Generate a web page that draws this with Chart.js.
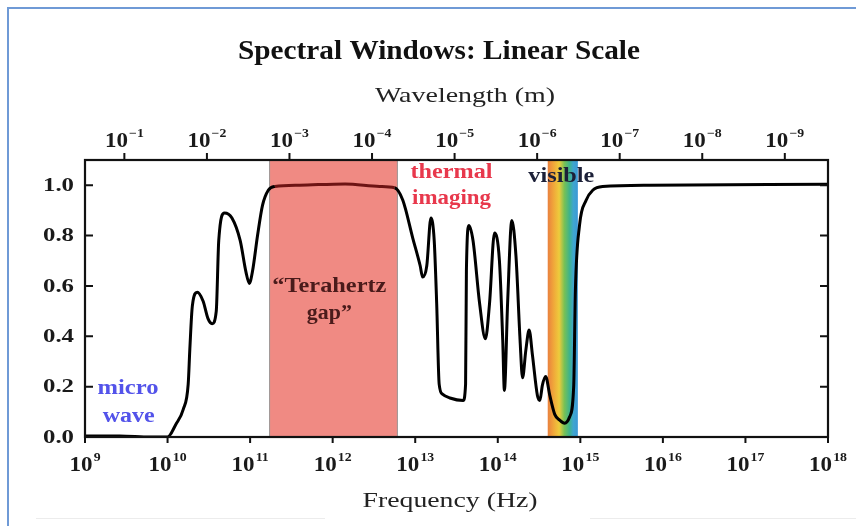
<!DOCTYPE html>
<html lang="en">
<head>
<meta charset="UTF-8"/>
<title>Spectral Windows: Linear Scale</title>
<script src="https://cdn.jsdelivr.net/npm/chart.js@4/dist/chart.umd.min.js"></script>
<style>
  *{margin:0;padding:0;box-sizing:border-box}
  body{background:#fff;width:856px;height:526px;overflow:hidden}
  canvas{display:block}
</style>
</head>
<body>
<canvas id="spec" width="856" height="526"></canvas>
<script>
// frequency axis (log10 Hz) and wavelength axis (log10 m)
const FREQ_EXP = [9, 10, 11, 12, 13, 14, 15, 16, 17, 18];
const WAVE_EXP = [-1, -2, -3, -4, -5, -6, -7, -8, -9];
const Y_TICKS  = [0, 0.2, 0.4, 0.6, 0.8, 1.0];

// transmission curve (x = log10 f)
const logF = [9.0, 9.42, 9.79, 10.0, 10.1, 10.19, 10.25, 10.27, 10.3, 10.36, 10.43, 10.49, 10.54, 10.59, 10.62, 10.69, 10.78, 10.88, 10.95, 10.99,
  11.03, 11.09, 11.15, 11.22, 11.3, 11.6, 12.15, 12.57, 12.75, 12.85, 12.97, 13.06, 13.09, 13.14, 13.19, 13.23, 13.26, 13.29, 13.33, 13.42,
  13.58, 13.61, 13.62, 13.65, 13.7, 13.78, 13.85, 13.9, 13.96, 14.02, 14.06, 14.08, 14.12, 14.17, 14.22, 14.27, 14.3, 14.34, 14.38, 14.42,
  14.48, 14.51, 14.54, 14.58, 14.63, 14.69, 14.75, 14.81, 14.87, 14.92, 14.94, 14.99, 15.07, 15.15, 15.27, 15.84, 18.0];
const transmission = [0.004, 0.004, 0.0, 0.0, 0.05, 0.11, 0.21, 0.35, 0.52, 0.575, 0.54, 0.47, 0.45, 0.5, 0.78, 0.89, 0.87, 0.78, 0.655, 0.61,
  0.66, 0.8, 0.92, 0.98, 0.995, 1.0, 1.005, 0.995, 0.99, 0.94, 0.79, 0.68, 0.635, 0.68, 0.87, 0.78, 0.53, 0.21, 0.17, 0.155,
  0.145, 0.21, 0.66, 0.84, 0.78, 0.53, 0.39, 0.53, 0.81, 0.7, 0.385, 0.185, 0.54, 0.86, 0.72, 0.385, 0.235, 0.345, 0.425, 0.325,
  0.165, 0.145, 0.205, 0.24, 0.165, 0.09, 0.067, 0.055, 0.08, 0.205, 0.58, 0.84, 0.94, 0.98, 0.995, 1.0, 1.004];

// shaded bands (log10 f)
const THZ_GAP = [11.23, 12.79];
const VISIBLE = [14.605, 14.97];

// annotations: text, log10 f, y, colour, width in px
const notes = [
  ['micro',       9.52, 0.19,  '#5353ea', 61],
  ['wave',        9.53, 0.08,  '#5353ea', 52],
  ['\u201cTerahertz', 11.96, 0.595, '#4a1b1b', 114],
  ['gap\u201d',   11.96, 0.49,  '#4a1b1b', 45],
  ['thermal',     13.44, 1.048, '#e8384c', 82],
  ['imaging',     13.44, 0.944, '#e8384c', 79],
  ['visible',     14.77, 1.032, '#1c2038', 66],
];

const SERIF = '"Liberation Serif", "DejaVu Serif", serif';
const LOG_C = Math.log10(2.998e8);

function fitText(ctx, s, x, y, font, color, w, align) {
  ctx.save();
  ctx.font = font;
  const m = ctx.measureText(s).width;
  const sx = w ? w / m : 1;
  ctx.translate(x, y);
  ctx.scale(sx, 1);
  ctx.fillStyle = color;
  ctx.textAlign = align || 'center';
  ctx.textBaseline = 'middle';
  ctx.fillText(s, 0, 0);
  ctx.restore();
}

// "10" with a raised exponent, centred on x
function powText(ctx, exp, x, base) {
  const sup = String(exp).replace('-', '\u2212');
  const sx = 1.15;
  ctx.save();
  ctx.fillStyle = '#1a1a1a';
  ctx.textBaseline = 'alphabetic';
  ctx.font = 'bold 20px ' + SERIF;
  const wb = ctx.measureText('10').width;
  ctx.font = 'bold 12px ' + SERIF;
  const ws = ctx.measureText(sup).width;
  const gap = 1;
  const total = (wb + gap + ws) * sx;
  ctx.translate(x - total / 2, 0);
  ctx.scale(sx, 1);
  ctx.font = 'bold 20px ' + SERIF;
  ctx.fillText('10', 0, base);
  ctx.font = 'bold 12px ' + SERIF;
  ctx.fillText(sup, wb + gap, base - 10);
  ctx.restore();
}

const bands = {
  id: 'bands',
  beforeDatasetsDraw(chart) {
    const { ctx, chartArea: a, scales: { x } } = chart;
    ctx.save();
    let l = x.getPixelForValue(THZ_GAP[0]), r = x.getPixelForValue(THZ_GAP[1]);
    ctx.fillStyle = '#f08a83';
    ctx.fillRect(l, a.top, r - l, a.bottom - a.top);
    ctx.strokeStyle = '#9a9a9a';
    ctx.lineWidth = 1;
    ctx.beginPath();
    ctx.moveTo(l + 0.5, a.top); ctx.lineTo(l + 0.5, a.bottom);
    ctx.moveTo(r - 0.5, a.top); ctx.lineTo(r - 0.5, a.bottom);
    ctx.stroke();

    l = x.getPixelForValue(VISIBLE[0]); r = x.getPixelForValue(VISIBLE[1]);
    const g = ctx.createLinearGradient(l, 0, r, 0);
    g.addColorStop(0.0, '#e9803e');
    g.addColorStop(0.18, '#f0a43a');
    g.addColorStop(0.38, '#eecb3c');
    g.addColorStop(0.55, '#79c154');
    g.addColorStop(0.72, '#3fb38a');
    g.addColorStop(0.85, '#3fa6cf');
    g.addColorStop(1.0, '#3c98d6');
    ctx.fillStyle = g;
    ctx.fillRect(l, a.top, r - l, a.bottom - a.top);
    ctx.restore();
  }
};

const frame = {
  id: 'frame',
  afterDraw(chart) {
    const { ctx, chartArea: a, scales: { x, x2, y } } = chart;
    ctx.save();

    // page border and faint rule
    ctx.strokeStyle = '#6f9ad6';
    ctx.lineWidth = 2;
    ctx.beginPath();
    ctx.moveTo(8, 526); ctx.lineTo(8, 8); ctx.lineTo(856, 8);
    ctx.stroke();
    ctx.strokeStyle = '#ececec';
    ctx.lineWidth = 1;
    ctx.beginPath();
    ctx.moveTo(36, 518.5); ctx.lineTo(325, 518.5);
    ctx.moveTo(590, 518.5); ctx.lineTo(856, 518.5);
    ctx.stroke();

    // plot frame
    ctx.strokeStyle = '#111';
    ctx.lineWidth = 2.2;
    ctx.strokeRect(a.left, a.top, a.right - a.left, a.bottom - a.top);

    ctx.lineWidth = 2;
    ctx.beginPath();
    FREQ_EXP.forEach(e => {
      const px = x.getPixelForValue(e);
      ctx.moveTo(px, a.bottom); ctx.lineTo(px, a.bottom + 6);
    });
    WAVE_EXP.forEach(e => {
      const px = x2.getPixelForValue(-e);
      ctx.moveTo(px, a.top); ctx.lineTo(px, a.top - 7);
    });
    Y_TICKS.forEach(v => {
      const py = y.getPixelForValue(v);
      ctx.moveTo(a.left, py); ctx.lineTo(a.left + 8, py);
      ctx.moveTo(a.right, py); ctx.lineTo(a.right - 8, py);
    });
    ctx.stroke();

    // tick labels
    FREQ_EXP.forEach(e => powText(ctx, e, x.getPixelForValue(e), 471));
    WAVE_EXP.forEach(e => powText(ctx, e, x2.getPixelForValue(-e), 147));
    Y_TICKS.forEach(v => fitText(ctx, v.toFixed(1), a.left - 11, y.getPixelForValue(v) + 1,
      'bold 18px ' + SERIF, '#1a1a1a', 31, 'right'));

    // annotations
    notes.forEach(([s, lx, ly, c, w]) =>
      fitText(ctx, s, x.getPixelForValue(lx), y.getPixelForValue(ly), 'bold 20px ' + SERIF, c, w));

    // titles
    fitText(ctx, 'Spectral Windows: Linear Scale', 439, 52, 'bold 27px ' + SERIF, '#111', 402);
    fitText(ctx, 'Wavelength (m)', 465, 96, '22px ' + SERIF, '#222', 180);
    fitText(ctx, 'Frequency (Hz)', 450, 501, '22px ' + SERIF, '#222', 175);
    ctx.restore();
  }
};

new Chart(document.getElementById('spec'), {
  type: 'line',
  data: {
    datasets: [{
      label: 'Transmission',
      data: logF.map((f, i) => ({ x: f, y: transmission[i] })),
      borderColor: '#000',
      borderWidth: 3,
      pointRadius: 0,
      fill: false,
      cubicInterpolationMode: 'monotone',
      segment: {
        borderColor: c => (c.p0.parsed.x >= THZ_GAP[0] && c.p1.parsed.x <= THZ_GAP[1]) ? '#6d1414' : '#000'
      }
    }]
  },
  options: {
    responsive: false,
    devicePixelRatio: 1,
    animation: false,
    layout: { padding: { left: 85, top: 160, right: 28, bottom: 89 } },
    plugins: { legend: { display: false }, title: { display: false }, tooltip: { enabled: false } },
    scales: {
      x:  { type: 'linear', min: 9, max: 18, display: false },
      x2: { type: 'linear', min: 9 - LOG_C, max: 18 - LOG_C, display: false, position: 'top' },
      y:  { type: 'linear', min: 0, max: 1.1, display: false }
    }
  },
  plugins: [bands, frame]
});
</script>
</body>
</html>
